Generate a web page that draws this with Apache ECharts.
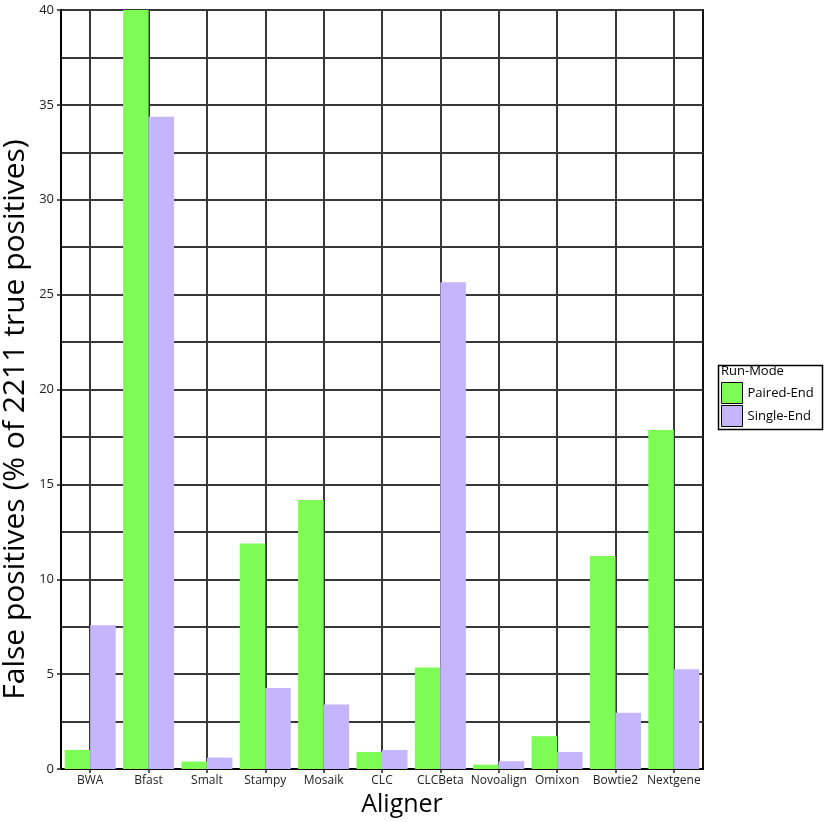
<!DOCTYPE html>
<html>
<head>
<meta charset="utf-8">
<script src="https://cdn.jsdelivr.net/npm/echarts@6/dist/echarts.min.js"></script>
<style>
html,body{margin:0;padding:0;background:#fff;}
#chart{width:829px;height:822px;}
</style>
</head>
<body>
<div id="chart"></div>
<script>
const categories = ['BWA','Bfast','Smalt','Stampy','Mosaik','CLC','CLCBeta','Novoalign','Omixon','Bowtie2','Nextgene'];
const pairedEnd = [1.0, 40, 0.39, 11.89, 14.18, 0.9, 5.35, 0.23, 1.73, 11.22, 17.87];
const singleEnd = [7.58, 34.37, 0.6, 4.27, 3.4, 1.0, 25.65, 0.41, 0.9, 2.96, 5.26];
const yTicks = [0, 5, 10, 15, 20, 25, 30, 35, 40];

const FONT = 'Open Sans';
const gridColor = '#383838';

const chart = echarts.init(document.getElementById('chart'), null, {renderer: 'canvas'});
chart.setOption({
  animation: false,
  backgroundColor: '#fff',
  textStyle: {fontFamily: FONT},
  grid: {
    left: 61, right: 126, top: 10, bottom: 53,
    outerBoundsMode: 'none',
    containLabel: false,
    show: true, borderColor: '#111', borderWidth: 2, backgroundColor: 'transparent'
  },
  xAxis: {
    type: 'category',
    data: categories,
    name: 'Aligner',
    nameLocation: 'middle',
    nameGap: 20,
    nameTextStyle: {fontSize: 25, color: '#000', fontFamily: FONT, padding: [0, 0, 0, 40]},
    axisLine: {show: true, lineStyle: {color: '#000', width: 2}},
    axisTick: {show: true, alignWithLabel: true, length: 4, lineStyle: {color: '#222', width: 1.5}},
    axisLabel: {fontSize: 12, color: '#222', margin: 6, interval: 0},
    splitLine: {show: true, alignWithLabel: true, lineStyle: {color: gridColor, width: 2}}
  },
  yAxis: {
    type: 'value',
    min: yTicks[0],
    max: yTicks[yTicks.length - 1],
    interval: 5,
    name: 'False positives (% of 2211 true positives)',
    nameLocation: 'middle',
    nameMoveOverlap: false,
    nameGap: 31,
    nameTextStyle: {fontSize: 30, color: '#000', fontFamily: FONT, padding: [0, 60, 0, 0]},
    axisLine: {show: true, lineStyle: {color: '#000', width: 2}},
    axisTick: {show: true, length: 4, lineStyle: {color: '#222', width: 1.5}},
    axisLabel: {fontSize: 13, color: '#222', margin: 7},
    splitLine: {show: true, lineStyle: {color: gridColor, width: 2}},
    minorTick: {show: false, splitNumber: 2},
    minorSplitLine: {show: true, lineStyle: {color: gridColor, width: 2}}
  },
  legend: {
    data: ['Paired-End', 'Single-End'],
    orient: 'vertical',
    left: 721, top: 382,
    itemWidth: 21, itemHeight: 21,
    itemGap: 1,
    icon: 'rect',
    itemStyle: {borderColor: '#000', borderWidth: 1},
    textStyle: {fontSize: 13, color: '#000', fontFamily: FONT},
    selectedMode: false,
    padding: 0
  },
  graphic: [
    {type: 'rect', left: 716, top: 363, shape: {width: 104, height: 64},
     style: {fill: 'none', stroke: '#000', lineWidth: 1.5}, z: 10},
    {type: 'text', left: 721, top: 365, style: {text: 'Run-Mode', fontSize: 13, fill: '#000', fontFamily: FONT}, z: 10}
  ],
  series: [
    {name: 'Paired-End', type: 'bar', data: pairedEnd, barWidth: 25.5, barGap: '0%',
     itemStyle: {color: '#7dfc55'}, z: 3},
    {name: 'Single-End', type: 'bar', data: singleEnd, barWidth: 25.5, barGap: '0%',
     itemStyle: {color: '#c3b6fd'}, z: 3}
  ]
});
</script>
</body>
</html>
